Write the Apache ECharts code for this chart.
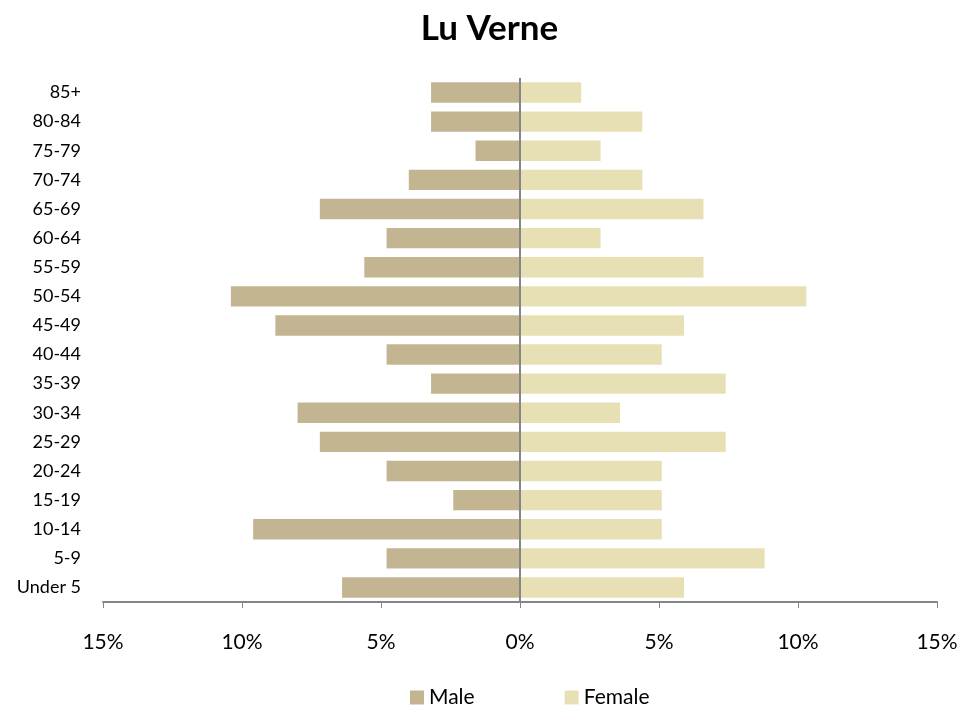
<!DOCTYPE html>
<html>
<head>
<meta charset="utf-8">
<script src="https://cdn.jsdelivr.net/npm/echarts@6/dist/echarts.min.js"></script>
<style>
  html, body { margin: 0; padding: 0; background: #fff; }
  #chart { width: 979px; height: 713px; }
</style>
</head>
<body>
<div id="chart"></div>
<script>
var ageGroups = ['Under 5', '5-9', '10-14', '15-19', '20-24', '25-29', '30-34', '35-39', '40-44',
                 '45-49', '50-54', '55-59', '60-64', '65-69', '70-74', '75-79', '80-84', '85+'];
// percent of population, male shown to the left
var male   = [6.4, 4.8, 9.6, 2.4, 4.8, 7.2, 8.0, 3.2, 4.8, 8.8, 10.4, 5.6, 4.8, 7.2, 4.0, 1.6, 3.2, 3.2];
var female = [5.9, 8.8, 5.1, 5.1, 5.1, 7.4, 3.6, 7.4, 5.1, 5.9, 10.3, 6.6, 2.9, 6.6, 4.4, 2.9, 4.4, 2.2];
var xTicks = [-15, -10, -5, 0, 5, 10, 15];

var font = 'Lato, "Open Sans", sans-serif';
var chart = echarts.init(document.getElementById('chart'));

var option = {
    animation: false,
    title: {
        text: 'Lu Verne',
        left: 'center',
        top: 6,
        textStyle: { fontFamily: font, fontSize: 35, fontWeight: 'bold', color: '#000' }
    },
    legend: {
        bottom: 0,
        left: 405,
        itemGap: 90,
        itemWidth: 14,
        itemHeight: 14,
        icon: 'rect',
        textStyle: { fontFamily: font, fontSize: 21, color: '#000' },
        data: ['Male', 'Female']
    },
    grid: { left: 103, right: 42, top: 78, bottom: 111 },
    xAxis: {
        type: 'value',
        min: xTicks[0],
        max: xTicks[xTicks.length - 1],
        interval: 5,
        axisLine: { show: true, onZero: false, lineStyle: { color: '#868686', width: 2 } },
        axisTick: { show: true, length: 6, lineStyle: { color: '#868686', width: 1 } },
        splitLine: { show: false },
        axisLabel: {
            margin: 30,
            fontFamily: font, fontSize: 21, color: '#000',
            formatter: function (v) { return Math.abs(v) + '%'; }
        }
    },
    yAxis: {
        type: 'category',
        data: ageGroups,
        axisLine: { show: false },
        axisTick: { show: false },
        axisLabel: { margin: 22, fontFamily: font, fontSize: 18, color: '#000' }
    },
    series: [
        {
            name: 'Male',
            type: 'bar',
            stack: 'pop',
            barCategoryGap: '30%',
            itemStyle: { color: '#C4B592' },
            data: male.map(function (v) { return -v; }),
            markLine: {
                silent: true,
                symbol: 'none',
                label: { show: false },
                lineStyle: { color: '#868686', width: 2, type: 'solid' },
                data: [{ xAxis: 0 }]
            }
        },
        {
            name: 'Female',
            type: 'bar',
            stack: 'pop',
            itemStyle: { color: '#E8E0B5' },
            data: female
        }
    ]
};
chart.setOption(option);
</script>
</body>
</html>
